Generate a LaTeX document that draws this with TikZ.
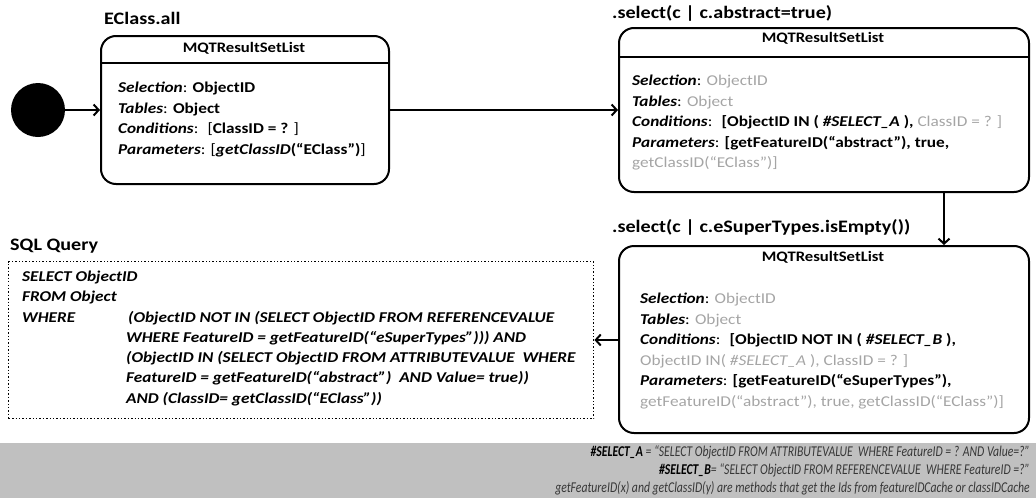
\documentclass[tikz,border=0pt]{standalone}
\usepackage{fontspec}
\setmainfont{Carlito}
\newfontfamily\anchafont{Carlito}[FakeStretch=1.15]
\newfontfamily\estrechafont{Carlito}[FakeStretch=0.78]
\usetikzlibrary{arrows.meta,positioning}
\definecolor{GrisTexto}{RGB}{165,165,165}
\definecolor{GrisBanda}{RGB}{192,192,192}
\definecolor{GrisNota}{RGB}{55,55,55}
\newcommand{\campo}[1]{\textbf{\textit{#1}}}
\newcommand{\gristxt}[1]{\textcolor{GrisTexto}{#1}}
\tikzset{
  statebox/.style={draw, line width=2pt, rounded corners=15pt, anchor=north west, inner sep=0pt},
  headtext/.style={font=\anchafont\fontsize{14.5}{17}\selectfont\bfseries, inner sep=0pt},
  bodytext/.style={align=left, anchor=north west, font=\anchafont\fontsize{15}{20.5}\selectfont, inner sep=0pt},
  titletext/.style={font=\anchafont\fontsize{17.5}{20}\selectfont\bfseries, anchor=west, inner sep=0pt},
  flowarr/.style={-{Straight Barb[length=5pt, width=11pt]}, line width=2pt},
  querybox/.style={draw, dotted, line width=1.4pt, anchor=north west, inner sep=0pt},
  sqltext/.style={align=left, anchor=north west, font=\anchafont\fontsize{15}{20.3}\selectfont\bfseries\itshape, inner sep=0pt},
  notetext/.style={align=right, anchor=north east, text=GrisNota, font=\estrechafont\fontsize{15}{18}\selectfont\itshape, inner sep=0pt},
}
\begin{document}
\begin{tikzpicture}[x=1pt, y=-1pt]
  \useasboundingbox (0,0) rectangle (1036,498);
  % estado inicial y primer conjunto
  \node[circle, fill=black, minimum size=54pt, inner sep=0pt] (ini) at (38,110) {};
  \node[statebox, minimum width=288pt, minimum height=148pt] (s1) at (100,35) {};
  \node[titletext] (t1) at (104,18) {EClass.all};
  \node[headtext] (h1) at (244,48) {MQTResultSetList};
  \draw[line width=2pt] (s1.west |- 0,63) -- (s1.east |- 0,63);
  \node[bodytext] (b1) at (118,82) {\campo{Selection}: \textbf{ObjectID}\\
    \campo{Tables}: \textbf{Object}\\
    \campo{Conditions}:~ [\textbf{ClassID = ?} ]\\
    \campo{Parameters}: [\textbf{\textit{getClassID}(“EClass”)}]};
  % select abstract
  \node[statebox, minimum width=410pt, minimum height=164pt] (s2) at (618,27) {};
  \node[titletext] (t2) at (612,13) {.select(c | c.abstract=true)};
  \node[headtext] (h2) at (823,38) {MQTResultSetList};
  \draw[line width=2pt] (s2.west |- 0,57) -- (s2.east |- 0,57);
  \node[bodytext] (b2) at (632,75) {\campo{Selection}: \gristxt{ObjectID}\\
    \campo{Tables}: \gristxt{Object}\\
    \campo{Conditions}:~ \textbf{[ObjectID IN ( \textit{\#SELECT\_A} ),} \gristxt{ClassID = ? ]}\\
    \campo{Parameters}: \textbf{[getFeatureID(“abstract”), true,}\\
    \gristxt{getClassID(“EClass”)]}};
  % select eSuperTypes
  \node[statebox, minimum width=410pt, minimum height=187pt] (s3) at (618,245) {};
  \node[titletext] (t3) at (612,227) {.select(c | c.eSuperTypes.isEmpty())};
  \node[headtext] (h3) at (823,257) {MQTResultSetList};
  \node[bodytext] (b3) at (640,293) {\campo{Selection}: \gristxt{ObjectID}\\
    \campo{Tables}: \gristxt{Object}\\
    \campo{Conditions}:~ \textbf{[ObjectID NOT IN ( \textit{\#SELECT\_B} ),}\\
    \gristxt{ObjectID IN( \textit{\#SELECT\_A} ), ClassID = ? ]}\\
    \campo{Parameters}: \textbf{[getFeatureID(“eSuperTypes”),}\\
    \gristxt{getFeatureID(“abstract”), true, getClassID(“EClass”)]}};
  % consulta SQL
  \node[titletext] (t4) at (10,246) {SQL Query};
  \node[querybox, minimum width=585pt, minimum height=157pt] (sql) at (8,261) {};
  \node[sqltext] (q1) at (22,267) {\begin{tabular}{@{}p{104pt}@{}l@{}}
    \multicolumn{2}{@{}l@{}}{SELECT ObjectID}\\
    \multicolumn{2}{@{}l@{}}{FROM Object}\\
    WHERE & \hspace{2pt}(ObjectID NOT IN (SELECT ObjectID FROM REFERENCEVALUE\\
    & WHERE FeatureID = getFeatureID(“eSuperTypes”))) AND\\
    & (ObjectID IN (SELECT ObjectID FROM ATTRIBUTEVALUE~ WHERE\\
    & FeatureID = getFeatureID(“abstract”)~ AND Value= true))\\
    & AND (ClassID= getClassID(“EClass”))
  \end{tabular}};
  % flechas
  \draw[flowarr] (ini) -- (s1.west |- ini);
  \draw[flowarr] (s1.east |- ini) -- (s2.west |- ini);
  \draw[flowarr] (s2.south -| 944,0) -- (s3.north -| 944,0);
  \draw[flowarr] (s3.west |- 0,340) -- (sql.east |- 0,340);
  % nota inferior
  \fill[GrisBanda] (0,443) rectangle (1036,498);
  \node[notetext] (nota) at (1030,445) {\textbf{\textcolor{black}{\#SELECT\_A}} = “SELECT ObjectID FROM ATTRIBUTEVALUE~ WHERE FeatureID = ? AND Value=?”\\
    \textbf{\textcolor{black}{\#SELECT\_B}}= “SELECT ObjectID FROM REFERENCEVALUE~ WHERE FeatureID =?”\\
    getFeatureID(x) and getClassID(y) are methods that get the Ids from featureIDCache or classIDCache};
\end{tikzpicture}
\end{document}
